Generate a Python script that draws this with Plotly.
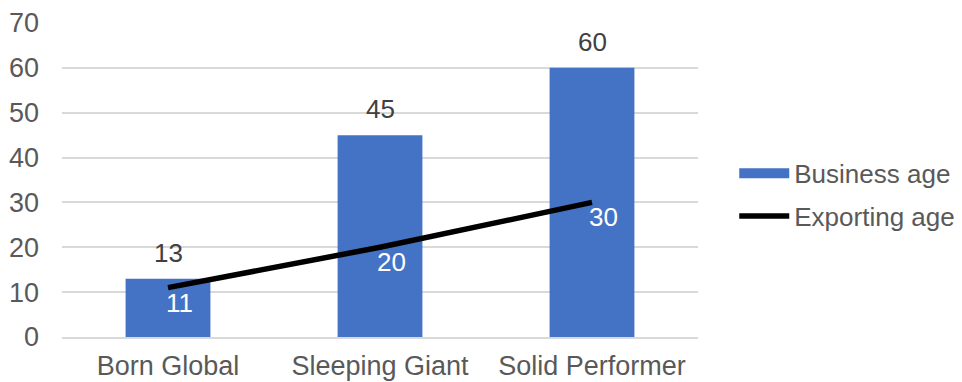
import plotly.graph_objects as go

categories = ["Born Global", "Sleeping Giant", "Solid Performer"]
business_age = [13, 45, 60]
exporting_age = [11, 20, 30]
y_ticks = [0, 10, 20, 30, 40, 50, 60, 70]

FONT = "Liberation Sans, Arial, sans-serif"
BLUE = "#4472C4"

fig = go.Figure()
fig.add_trace(go.Bar(
    x=categories, y=business_age, name="Business age",
    marker=dict(color=BLUE, line=dict(width=0)),
    width=0.4, showlegend=False,
))
fig.add_trace(go.Scatter(
    x=categories, y=exporting_age, name="Exporting age",
    mode="lines",
    line=dict(color="black", width=5.5),
    cliponaxis=False, showlegend=False,
))
# legend proxies (wide symbols like the original)
fig.add_trace(go.Scatter(x=[None], y=[None], mode="lines", name="Business age",
                         line=dict(color=BLUE, width=14), legendgroup="a"))
fig.add_trace(go.Scatter(x=[None], y=[None], mode="lines", name="Exporting age",
                         line=dict(color="black", width=5.5), legendgroup="b"))

for c, v in zip(categories, business_age):
    fig.add_annotation(x=c, y=v, text=str(v), showarrow=False, yanchor="middle",
                       yshift=26, font=dict(family=FONT, size=26, color="#404040"))
for c, v in zip(categories, exporting_age):
    fig.add_annotation(x=c, y=v, text=str(v), showarrow=False, yanchor="middle",
                       xanchor="center", xshift=11, yshift=-15,
                       font=dict(family=FONT, size=26, color="white"))

fig.update_layout(
    width=954, height=374,
    margin=dict(l=54, r=264, t=15, b=45, autoexpand=False),
    paper_bgcolor="white", plot_bgcolor="white",
    font=dict(family=FONT, size=26, color="#595959"),
    showlegend=True,
    legend=dict(x=1.057, y=0.453, xanchor="left", yanchor="middle",
                font=dict(size=26, color="#595959"), tracegroupgap=6,
                traceorder="grouped", itemwidth=50, bgcolor="rgba(0,0,0,0)"),
    bargap=0.6,
    yaxis=dict(range=[0, 70], tickvals=y_ticks, showgrid=True, gridcolor="#d9d9d9",
               gridwidth=1.5, zeroline=False, showline=False, ticks="",
               automargin=False,
               ticklabelstandoff=22, tickfont=dict(size=27, color="#595959")),
    xaxis=dict(showline=True, linecolor="#d9d9d9", linewidth=1.5, ticks="",
               automargin=False,
               ticklabelstandoff=4, tickfont=dict(size=27, color="#595959")),
)

fig.write_html("out.html")
